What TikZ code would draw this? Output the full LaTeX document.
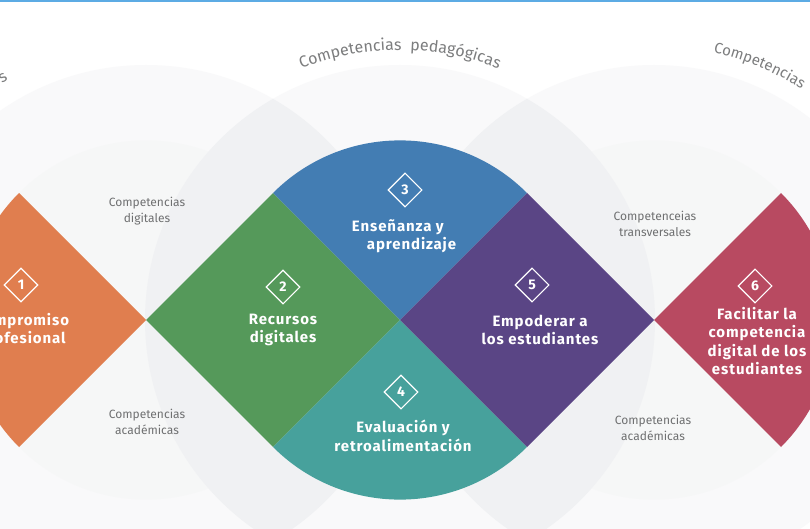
\documentclass[tikz,border=0pt]{standalone}
\usepackage{fontspec}
\setmainfont{Fira Sans}
\newfontfamily\areafont{Fira Sans}[LetterSpace=6]
\usepackage{tikz}
\usetikzlibrary{shapes.geometric, decorations.text}

\definecolor{topline}{HTML}{5CABE4}
\definecolor{ringfill}{HTML}{F9F9FA}
\definecolor{innerfill}{HTML}{F6F7F7}
\definecolor{lensfill}{HTML}{F0F1F3}
\definecolor{areaorange}{HTML}{E07E4F}
\definecolor{areagreen}{HTML}{55995A}
\definecolor{areablue}{HTML}{437DB3}
\definecolor{areateal}{HTML}{47A19C}
\definecolor{areapurple}{HTML}{5A4585}
\definecolor{areared}{HTML}{B84A61}
\definecolor{labelgray}{HTML}{6F7071}
\definecolor{arcgray}{HTML}{7C7D7E}

\newcommand{\arcfont}{\fontsize{16}{18}\selectfont\color{arcgray}}
\newcommand{\arcfontsmall}{\fontsize{15}{17}\selectfont\color{arcgray}}

\begin{document}
\begin{tikzpicture}[x=1pt,y=1pt,
    area/.style={text=white, align=center, font=\areafont\bfseries\fontsize{15}{18.5}\selectfont},
    badge/.style={diamond, draw=white, line width=1.1pt, aspect=1, inner sep=0pt,
                  minimum width=34pt, minimum height=34pt, text=white,
                  font=\bfseries\fontsize{14}{14}\selectfont},
    sublabel/.style={text=labelgray, align=center, font=\fontsize{12}{16}\selectfont}]
            \useasboundingbox (0,0) rectangle (810,528);
            \clip (0,0) rectangle (810,528);
            \fill[white] (0,0) rectangle (810,528);

            % three big circles
            \fill[ringfill] (146,208) circle (255);
            \fill[ringfill] (400,208) circle (255);
            \fill[ringfill] (654,208) circle (255);
            \fill[innerfill] (146,208) circle (179.6);
            \fill[innerfill] (654,208) circle (179.6);
            \begin{scope}
                \clip (146,208) circle (255);
                \fill[lensfill] (400,208) circle (255);
            \end{scope}
            \begin{scope}
                \clip (654,208) circle (255);
                \fill[lensfill] (400,208) circle (255);
            \end{scope}

            % circle titles
            \node[text=arcgray, font=\fontsize{16}{18}\selectfont, rotate=30] (arcleft) at (3,450) {s};
            \path[decorate, decoration={text along path, text align=center,
                text={|\arcfont|Competencias{ }{ }pedagógicas}}]
                (400,208) ++(125:270) arc (125:55:270);
            \path[decorate, decoration={text along path, text align=left,
                text={|\arcfontsmall|Competencias}}]
                (654,208) ++(77.5:274) arc (77.5:30:274);

            % the six areas
            \fill[areaorange] (146,208) -- ++(135:179.6) arc (135:225:179.6) -- cycle;
            \fill[areagreen] (146,208) -- (273,335) -- (400,208) -- (273,81) -- cycle;
            \fill[areablue] (400,208) -- ++(45:179.6) arc (45:135:179.6) -- cycle;
            \fill[areateal] (400,208) -- ++(225:179.6) arc (225:315:179.6) -- cycle;
            \fill[areapurple] (400,208) -- (527,335) -- (654,208) -- (527,81) -- cycle;
            \fill[areared] (654,208) -- ++(-45:179.6) arc (-45:45:179.6) -- cycle;

            \node[badge] (b1) at (21,243) {1};
            \node[badge] (b2) at (283,241) {2};
            \node[badge] (b3) at (405,338) {3};
            \node[badge] (b4) at (401,136) {4};
            \node[badge] (b5) at (532,243) {5};
            \node[badge] (b6) at (755,242) {6};

            \node[area] (compromiso) at (22,198) {Compromiso\\profesional};
            \node[area] (recursos) at (283,198) {Recursos\\digitales};
            \node[area, align=left] (ensenanza) at (404,292) {Enseñanza y\\\hspace*{15pt}aprendizaje};
            \node[area] (evaluacion) at (403,92) {Evaluación y\\retroalimentación};
            \node[area] (empoderar) at (540,198) {Empoderar a\\los estudiantes};
            \node[area] (facilitar) at (757,187) {Facilitar la\\competencia\\digital de los\\estudiantes};

            \node[sublabel] (digitales) at (147,317) {Competencias\\digitales};
            \node[sublabel] (academicasL) at (147,106) {Competencias\\académicas};
            \node[sublabel] (transversales) at (655,304) {Competenceias\\transversales};
            \node[sublabel] (academicasR) at (653,100) {Competencias\\académicas};

            \fill[topline] (0,526) rectangle (810,528);
        \end{tikzpicture}
\end{document}
